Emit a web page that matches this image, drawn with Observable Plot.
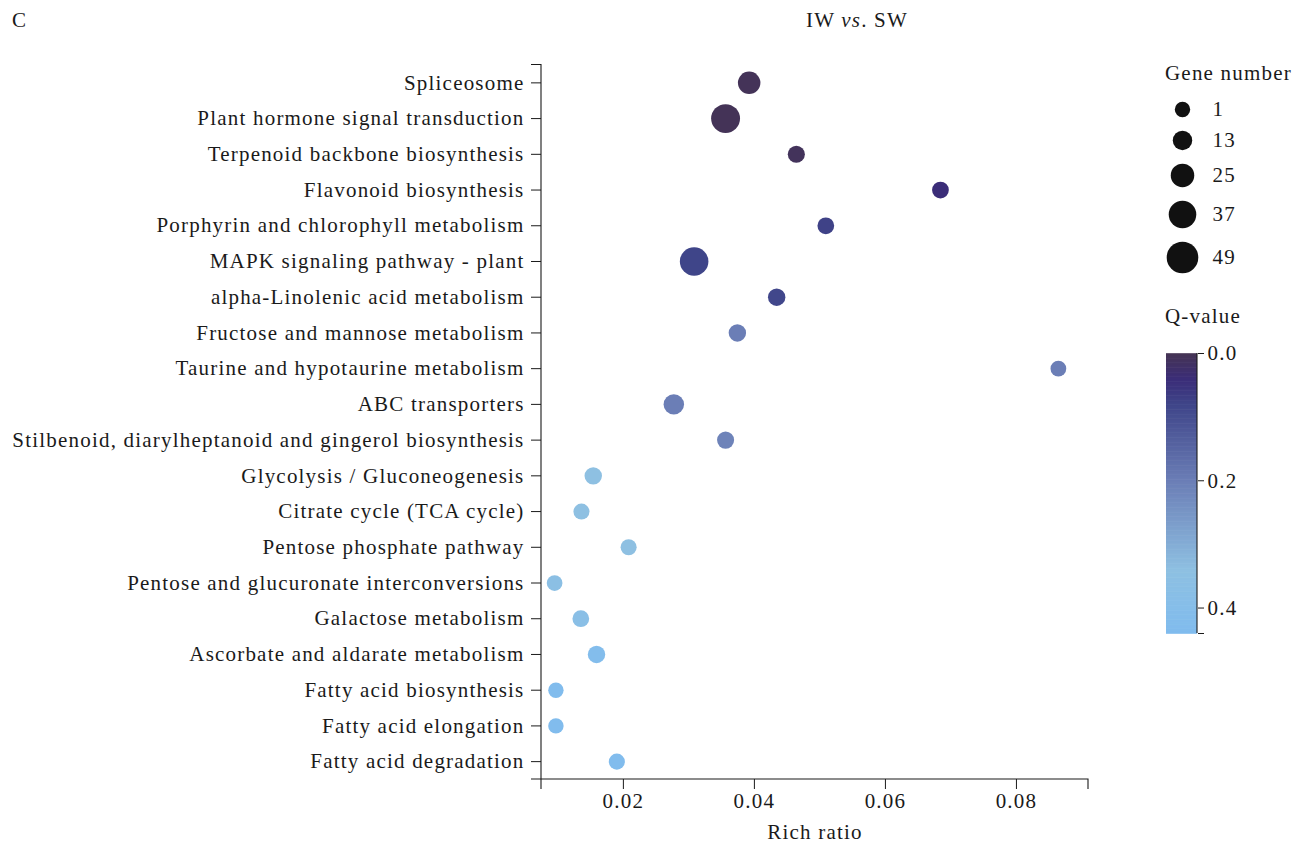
<!DOCTYPE html>
<html>
<head>
<meta charset="utf-8">
<script src="https://cdn.jsdelivr.net/npm/d3@7"></script>
<script src="https://cdn.jsdelivr.net/npm/@observablehq/plot@0.6"></script>
<style>
  body { margin: 0; background: #fff; font-family: "Liberation Serif", "Times New Roman", serif; color: #1a1a1a; }
  #wrap { position: relative; width: 1309px; height: 845px; overflow: hidden; }
  .abs { position: absolute; white-space: nowrap; line-height: 22px; font-size: 21px; letter-spacing: 1.2px; }
</style>
</head>
<body>
<div id="wrap">
  <div class="abs" style="left:12px;top:9px;">C</div>
  <div class="abs" style="left:806px;top:9px;">IW <i>vs</i>. SW</div>
  <div class="abs" style="left:1165px;top:62px;">Gene number</div>
  <div class="abs" style="left:1165px;top:305px;">Q-value</div>
  <div id="main" class="abs" style="left:0;top:0;"></div>
  <div id="sizeLegend" class="abs" style="left:1150px;top:90px;"></div>
  <div id="colorLegend" class="abs" style="left:1150px;top:300px;"></div>
</div>
<script>
// KEGG enrichment, IW vs. SW
const pathways = [
  "Spliceosome",
  "Plant hormone signal transduction",
  "Terpenoid backbone biosynthesis",
  "Flavonoid biosynthesis",
  "Porphyrin and chlorophyll metabolism",
  "MAPK signaling pathway - plant",
  "alpha-Linolenic acid metabolism",
  "Fructose and mannose metabolism",
  "Taurine and hypotaurine metabolism",
  "ABC transporters",
  "Stilbenoid, diarylheptanoid and gingerol biosynthesis",
  "Glycolysis / Gluconeogenesis",
  "Citrate cycle (TCA cycle)",
  "Pentose phosphate pathway",
  "Pentose and glucuronate interconversions",
  "Galactose metabolism",
  "Ascorbate and aldarate metabolism",
  "Fatty acid biosynthesis",
  "Fatty acid elongation",
  "Fatty acid degradation"
];
const richRatio = [0.0392, 0.0356, 0.0464, 0.0684, 0.0509, 0.0308, 0.0434, 0.0374, 0.0864, 0.0277,
                   0.0356, 0.0154, 0.0136, 0.0208, 0.0095, 0.0135, 0.0159, 0.0097, 0.0097, 0.0190];
const geneNumber = [22, 41, 6, 5, 5, 40, 7, 7, 2, 16,
                    6, 7, 3, 3, 2, 5, 7, 1, 1, 3];
const qValue = [0.004, 0.003, 0.008, 0.04, 0.075, 0.08, 0.085, 0.2, 0.2, 0.2,
                0.21, 0.34, 0.34, 0.34, 0.36, 0.37, 0.42, 0.43, 0.43, 0.43];

const xTicks = [0.02, 0.04, 0.06, 0.08];
const xDomain = [0.0075, 0.091];
const sizeKeys = [1, 13, 25, 37, 49];
const qTicks = [0, 0.2, 0.4];
const qDomain = [0, 0.44];
const qStops = [0, 0.04, 0.08, 0.2, 0.34, 0.44];
const qColors = ["#453454", "#3b2d78", "#3f4589", "#6b7eb6", "#8ec0e2", "#80bcee"];

const rows = pathways.map((p, i) => ({pathway: p, ratio: richRatio[i], genes: geneNumber[i], q: qValue[i]}));

const colorScale = {type: "linear", domain: qStops, range: qColors, interpolate: "rgb"};
const rScale = {type: "linear", domain: [1, 49], range: [7.7, 15.8]};
const font = {
  fontFamily: "Liberation Serif, Times New Roman, serif",
  fontSize: "21px",
  letterSpacing: "1.2px",
  color: "#1a1a1a",
  background: "transparent"
};

// axis lines with end caps, drawn along the frame edges
function axisFrame(index, scales, values, dims) {
  const x0 = dims.marginLeft, x1 = dims.width - dims.marginRight;
  const y0 = dims.marginTop, y1 = dims.height - dims.marginBottom;
  const g = d3.create("svg:g").attr("fill", "none").attr("stroke", "#1a1a1a").attr("stroke-width", 1.1);
  g.append("path").attr("d",
    `M${x0 - 10},${y0}H${x0}V${y1}H${x1}V${y1 + 10}M${x0 - 10},${y1}H${x0}V${y1 + 10}`);
  return g.node();
}

const main = Plot.plot({
  width: 1100,
  height: 845,
  marginLeft: 541,
  marginRight: 12,
  marginTop: 64.5,
  marginBottom: 66,
  style: font,
  x: {domain: xDomain},
  y: {type: "point", domain: pathways, padding: 0.5, round: false},
  r: rScale,
  color: colorScale,
  marks: [
    Plot.axisY({tickSize: 10, tickPadding: 7, label: null}),
    Plot.axisX({ticks: xTicks, tickSize: 10, tickPadding: 4, tickFormat: d3.format(".2f"), label: null}),
    Plot.text(["Rich ratio"], {text: d => d, frameAnchor: "bottom", dy: 53, lineAnchor: "middle"}),
    axisFrame,
    Plot.dot(rows, {x: "ratio", y: "pathway", r: "genes", fill: "q"})
  ]
});
document.getElementById("main").append(main);

// size legend: keys stacked by their own radii
const rFn = Plot.scale({r: rScale});
const keys = [];
sizeKeys.forEach((n, i) => {
  const r = rFn.apply(n);
  const cy = i === 0 ? 19 : keys[i - 1].cy + keys[i - 1].rad + r + 13.5;
  keys.push({n, cy, rad: r});
});
const sizeLegend = Plot.plot({
  width: 150,
  height: 200,
  marginLeft: 32,
  marginRight: 0,
  marginTop: 0,
  marginBottom: 0,
  style: font,
  y: {type: "identity", axis: null},
  r: rScale,
  marks: [
    Plot.dot(keys, {y: "cy", r: "n", fill: "#111", frameAnchor: "left"}),
    Plot.text(keys, {y: "cy", text: d => String(d.n), frameAnchor: "left", dx: 30, textAnchor: "start", fill: "#1a1a1a"})
  ]
});
document.getElementById("sizeLegend").append(sizeLegend);

// colour bar for Q-value
const qSteps = d3.range(0, 220).map(i => i * 0.002);
function barAxisLine(index, scales, values, dims) {
  const x = dims.width - dims.marginRight;
  return d3.create("svg:path")
    .attr("fill", "none").attr("stroke", "#1a1a1a").attr("stroke-width", 1.1)
    .attr("d", `M${x},${dims.marginTop}V${dims.height - dims.marginBottom}`).node();
}
const colorLegend = Plot.plot({
  width: 150,
  height: 360,
  marginLeft: 16,
  marginRight: 103,
  marginTop: 53,
  marginBottom: 27,
  style: font,
  y: {domain: qDomain, reverse: true},
  color: colorScale,
  marks: [
    Plot.ruleY(qSteps, {y: d => d + 0.001, stroke: d => d, strokeWidth: 1.9}),
    Plot.axisY({anchor: "right", ticks: [...qTicks, qDomain[1]], tickSize: 6, tickPadding: 4,
                tickFormat: d => (d === qDomain[1] ? "" : d3.format(".1f")(d)), label: null}),
    barAxisLine
  ]
});
document.getElementById("colorLegend").append(colorLegend);
</script>
</body>
</html>
